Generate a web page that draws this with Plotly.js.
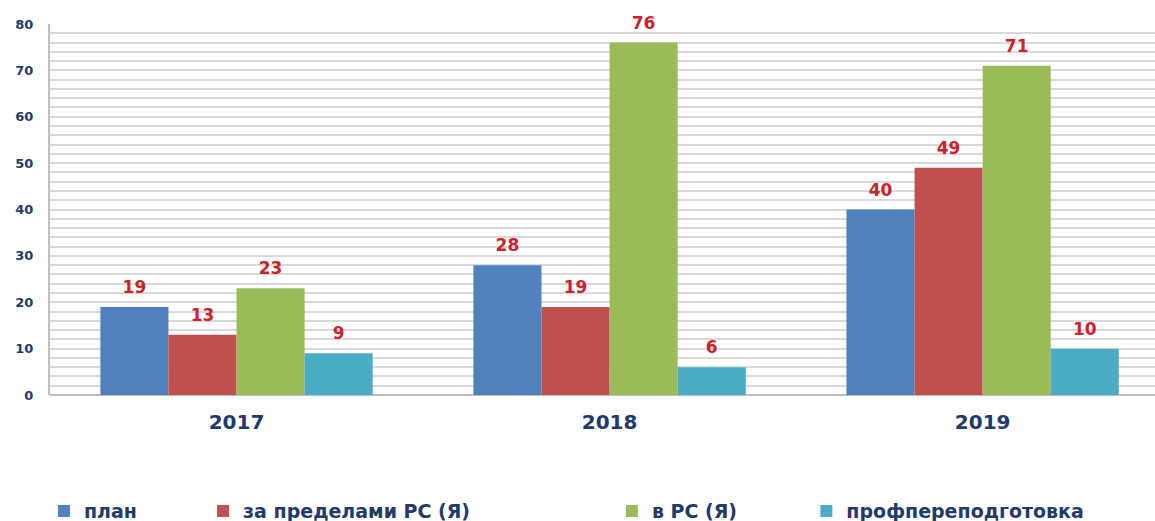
<!DOCTYPE html>
<html>
<head>
<meta charset="utf-8">
<script src="https://cdn.plot.ly/plotly-3.0.1.min.js"></script>
<style>html,body{margin:0;padding:0;background:#fff;}#chart{width:1155px;height:521px;}</style>
</head>
<body>
<div id="chart"></div>
<script>
const years = ["2017", "2018", "2019"];
const seriesNames = ["план", "за пределами РС (Я)", "в РС (Я)", "профпереподготовка"];
const plan = [19, 28, 40];
const outside = [13, 19, 49];
const inside = [23, 76, 71];
const retraining = [9, 6, 10];
const seriesValues = [plan, outside, inside, retraining];
const seriesColors = ["#4f81bd", "#c0504d", "#9bbb59", "#4bacc6"];
const legendIds = ["legend", "legend2", "legend3", "legend4"];
const legendX = [-0.0055, 0.1385, 0.5085, 0.6845];

const navy = "#1f3a6b";
const labelRed = "#cc2229";

const barTraces = seriesValues.map((vals, i) => ({
  type: "bar",
  name: seriesNames[i],
  x: years,
  y: vals,
  offsetgroup: "g" + i,
  marker: {color: seriesColors[i], line: {width: 0}},
  legend: legendIds[i],
  hoverinfo: "skip"
}));

const labelTraces = seriesValues.map((vals, i) => ({
  type: "scatter",
  mode: "markers+text",
  x: years,
  y: vals,
  offsetgroup: "g" + i,
  text: vals.map(String),
  textposition: "top center",
  marker: {size: 14, opacity: 0, color: seriesColors[i]},
  cliponaxis: false,
  textfont: {family: "DejaVu Sans", size: 17, color: labelRed, weight: "bold"},
  showlegend: false,
  hoverinfo: "skip"
}));

const layout = {
  width: 1155,
  height: 521,
  margin: {l: 50, r: 0, t: 24, b: 126},
  paper_bgcolor: "#ffffff",
  plot_bgcolor: "#ffffff",
  barmode: "group",
  bargap: 0.27,
  bargroupgap: 0,
  scattermode: "group",
  scattergap: 0.27,
  font: {family: "DejaVu Sans", color: navy},
  xaxis: {
    type: "category",
    range: [-0.5, 2.462],
    showgrid: false,
    zeroline: false,
    showline: false,
    ticks: "",
    tickfont: {family: "DejaVu Sans", size: 20, color: navy, weight: "bold"},
    ticklabelstandoff: 13
  },
  yaxis: {
    range: [0, 80],
    dtick: 10,
    showgrid: true,
    gridcolor: "#d9d9d9",
    gridwidth: 2,
    zeroline: true,
    zerolinecolor: "#bfbfbf",
    zerolinewidth: 2,
    showline: true,
    linecolor: "#bfbfbf",
    linewidth: 2,
    ticks: "",
    tickfont: {family: "DejaVu Sans", size: 13, color: navy, weight: "bold"},
    ticklabelstandoff: 12,
    minor: {dtick: 2, showgrid: true, gridcolor: "#d9d9d9", gridwidth: 2}
  },
  showlegend: true
};

legendIds.forEach((id, i) => {
  layout[id] = {
    orientation: "h",
    x: legendX[i],
    xanchor: "left",
    xref: "paper",
    y: 0.019,
    yref: "container",
    yanchor: "middle",
    bgcolor: "rgba(0,0,0,0)",
    font: {family: "DejaVu Sans", size: 19, color: navy, weight: "bold"},
    itemwidth: 30
  };
});

Plotly.newPlot("chart", barTraces.concat(labelTraces), layout, {displayModeBar: false, staticPlot: true});
</script>
</body>
</html>
